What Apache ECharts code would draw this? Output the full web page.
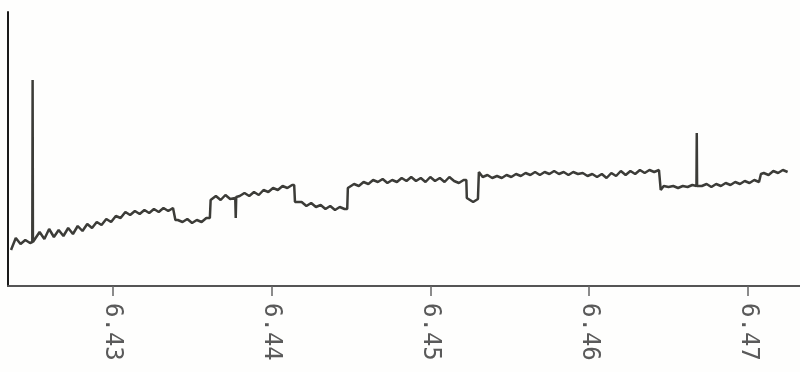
<!DOCTYPE html>
<html>
<head>
<meta charset="utf-8">
<script src="https://cdn.jsdelivr.net/npm/echarts@6/dist/echarts.min.js"></script>
<style>
html,body{margin:0;padding:0;background:#fefefd;}
#chart{width:800px;height:372px;}
</style>
</head>
<body>
<div id="chart"></div>
<script>
// x positions (axis units) and trace heights (arbitrary units)
var xValues = [
6.4236,6.4239,6.4242,6.4245,6.4248,6.42494,6.42496,6.42498,6.4251,6.4254,6.4257,6.4260,6.4263,6.4266,6.4269,6.4272,6.4275,6.4278,
6.4281,6.4284,6.4287,6.4290,6.4293,6.4296,6.4299,6.4302,6.4305,6.4308,6.4311,6.4314,6.4317,6.4320,6.4323,6.4326,6.4329,6.4332,6.4335,6.4338,
6.43395,6.4341,6.4344,6.4347,6.4350,6.4353,6.4356,6.4359,6.43612,6.43617,6.4362,6.4365,6.4368,6.4371,6.4374,6.43772,6.43775,6.43778,
6.4380,6.4383,6.4386,6.4389,6.4392,6.4395,6.4398,6.4401,6.4404,6.4407,6.4410,6.4413,6.44143,6.44148,
6.4416,6.4419,6.4422,6.4425,6.4428,6.4431,6.4434,6.4437,6.4440,6.4443,6.4446,6.44477,6.44481,
6.4449,6.4452,6.4455,6.4458,6.4461,6.4464,6.4467,6.4470,6.4473,6.4476,6.4479,6.4482,6.4485,6.4488,6.4491,6.4494,6.4497,6.4500,
6.4503,6.4506,6.4509,6.4512,6.4515,6.4518,6.4521,6.45227,6.45230,6.4524,6.4527,6.4530,6.45303,6.45306,
6.4533,6.4536,6.4539,6.4542,6.4545,6.4548,6.4551,6.4554,6.4557,6.4560,6.4563,6.4566,6.4569,6.4572,6.4575,6.4578,6.4581,6.4584,
6.4587,6.4590,6.4593,6.4596,6.4599,6.4602,6.4605,6.4608,6.4611,6.4614,6.4617,6.4620,6.4623,6.4626,6.4629,6.4632,6.4635,6.4638,
6.4641,6.4644,6.46448,6.46451,6.46455,6.4647,6.4650,6.4653,6.4656,6.4659,6.4662,6.4665,6.46676,6.46678,6.46680,
6.4671,6.4674,6.4677,6.4680,6.4683,6.4686,6.4689,6.4692,6.4695,6.4698,6.4701,6.4704,6.4707,6.47079,6.47082,
6.4710,6.4713,6.4716,6.4719,6.4722,6.4725
];
var traceValues = [
36,48,42,46,43,44,206,44,46,54,47,57,49,56,50,58,52,60,
55,62,58,64,61,67,64,70,68,74,71,75,72,76,73,77,74,78,75,78,
66,66,64,67,63,66,64,68,68,86,86,90,86,91,87,88,68,89,
90,93,90,94,91,96,94,98,96,100,98,101,101,84,
82,84,80,83,79,81,77,80,76,79,77,77,98,
100,102,100,104,102,106,104,107,103,106,104,108,105,109,105,108,104,109,
105,108,104,109,105,103,106,106,88,86,84,87,87,114,
109,111,108,110,108,111,109,112,110,113,111,114,111,114,112,115,112,114,
111,114,112,113,110,112,109,112,108,113,110,115,111,115,112,116,113,116,
114,116,116,96,96,100,99,100,98,100,99,101,100,153,100,
100,102,99,102,100,103,101,104,102,105,103,106,104,104,112,
113,111,115,113,116,114
];
var tickValues = [6.43, 6.44, 6.45, 6.46, 6.47];
var tickLabels = ['6.43', '6.44', '6.45', '6.46', '6.47'];

var data = xValues.map(function (x, i) { return [x, traceValues[i]]; });

var chart = echarts.init(document.getElementById('chart'), null, {renderer: 'canvas'});
chart.setOption({
  backgroundColor: '#fefefd',
  animation: false,
  grid: {left: 8, right: 0, top: 12, bottom: 86, containLabel: false},
  xAxis: {
    type: 'value',
    min: 6.42341,
    max: 6.47328,
    splitLine: {show: false},
    axisLine: {show: true, onZero: false, lineStyle: {color: '#555', width: 2}},
    axisTick: {show: true, length: 10, customValues: tickValues, lineStyle: {color: '#666', width: 1.5}},
    axisLabel: {
      show: true,
      rotate: -90,
      margin: 17,
      customValues: tickValues,
      formatter: function (v) {
        var i = tickValues.findIndex(function (t) { return Math.abs(t - v) < 1e-6; });
        return i >= 0 ? tickLabels[i] : '';
      },
      fontFamily: 'DejaVu Sans Mono',
      fontSize: 24,
      color: '#5a5a5a'
    }
  },
  yAxis: {
    type: 'value',
    min: 0,
    max: 274,
    splitLine: {show: false},
    axisLine: {show: true, onZero: false, lineStyle: {color: '#1a1a1a', width: 2}},
    axisTick: {show: false},
    axisLabel: {show: false}
  },
  series: [{
    type: 'line',
    data: data,
    showSymbol: false,
    symbol: 'none',
    lineStyle: {color: '#3c3c38', width: 2.5},
    z: 3
  }]
});
</script>
</body>
</html>
